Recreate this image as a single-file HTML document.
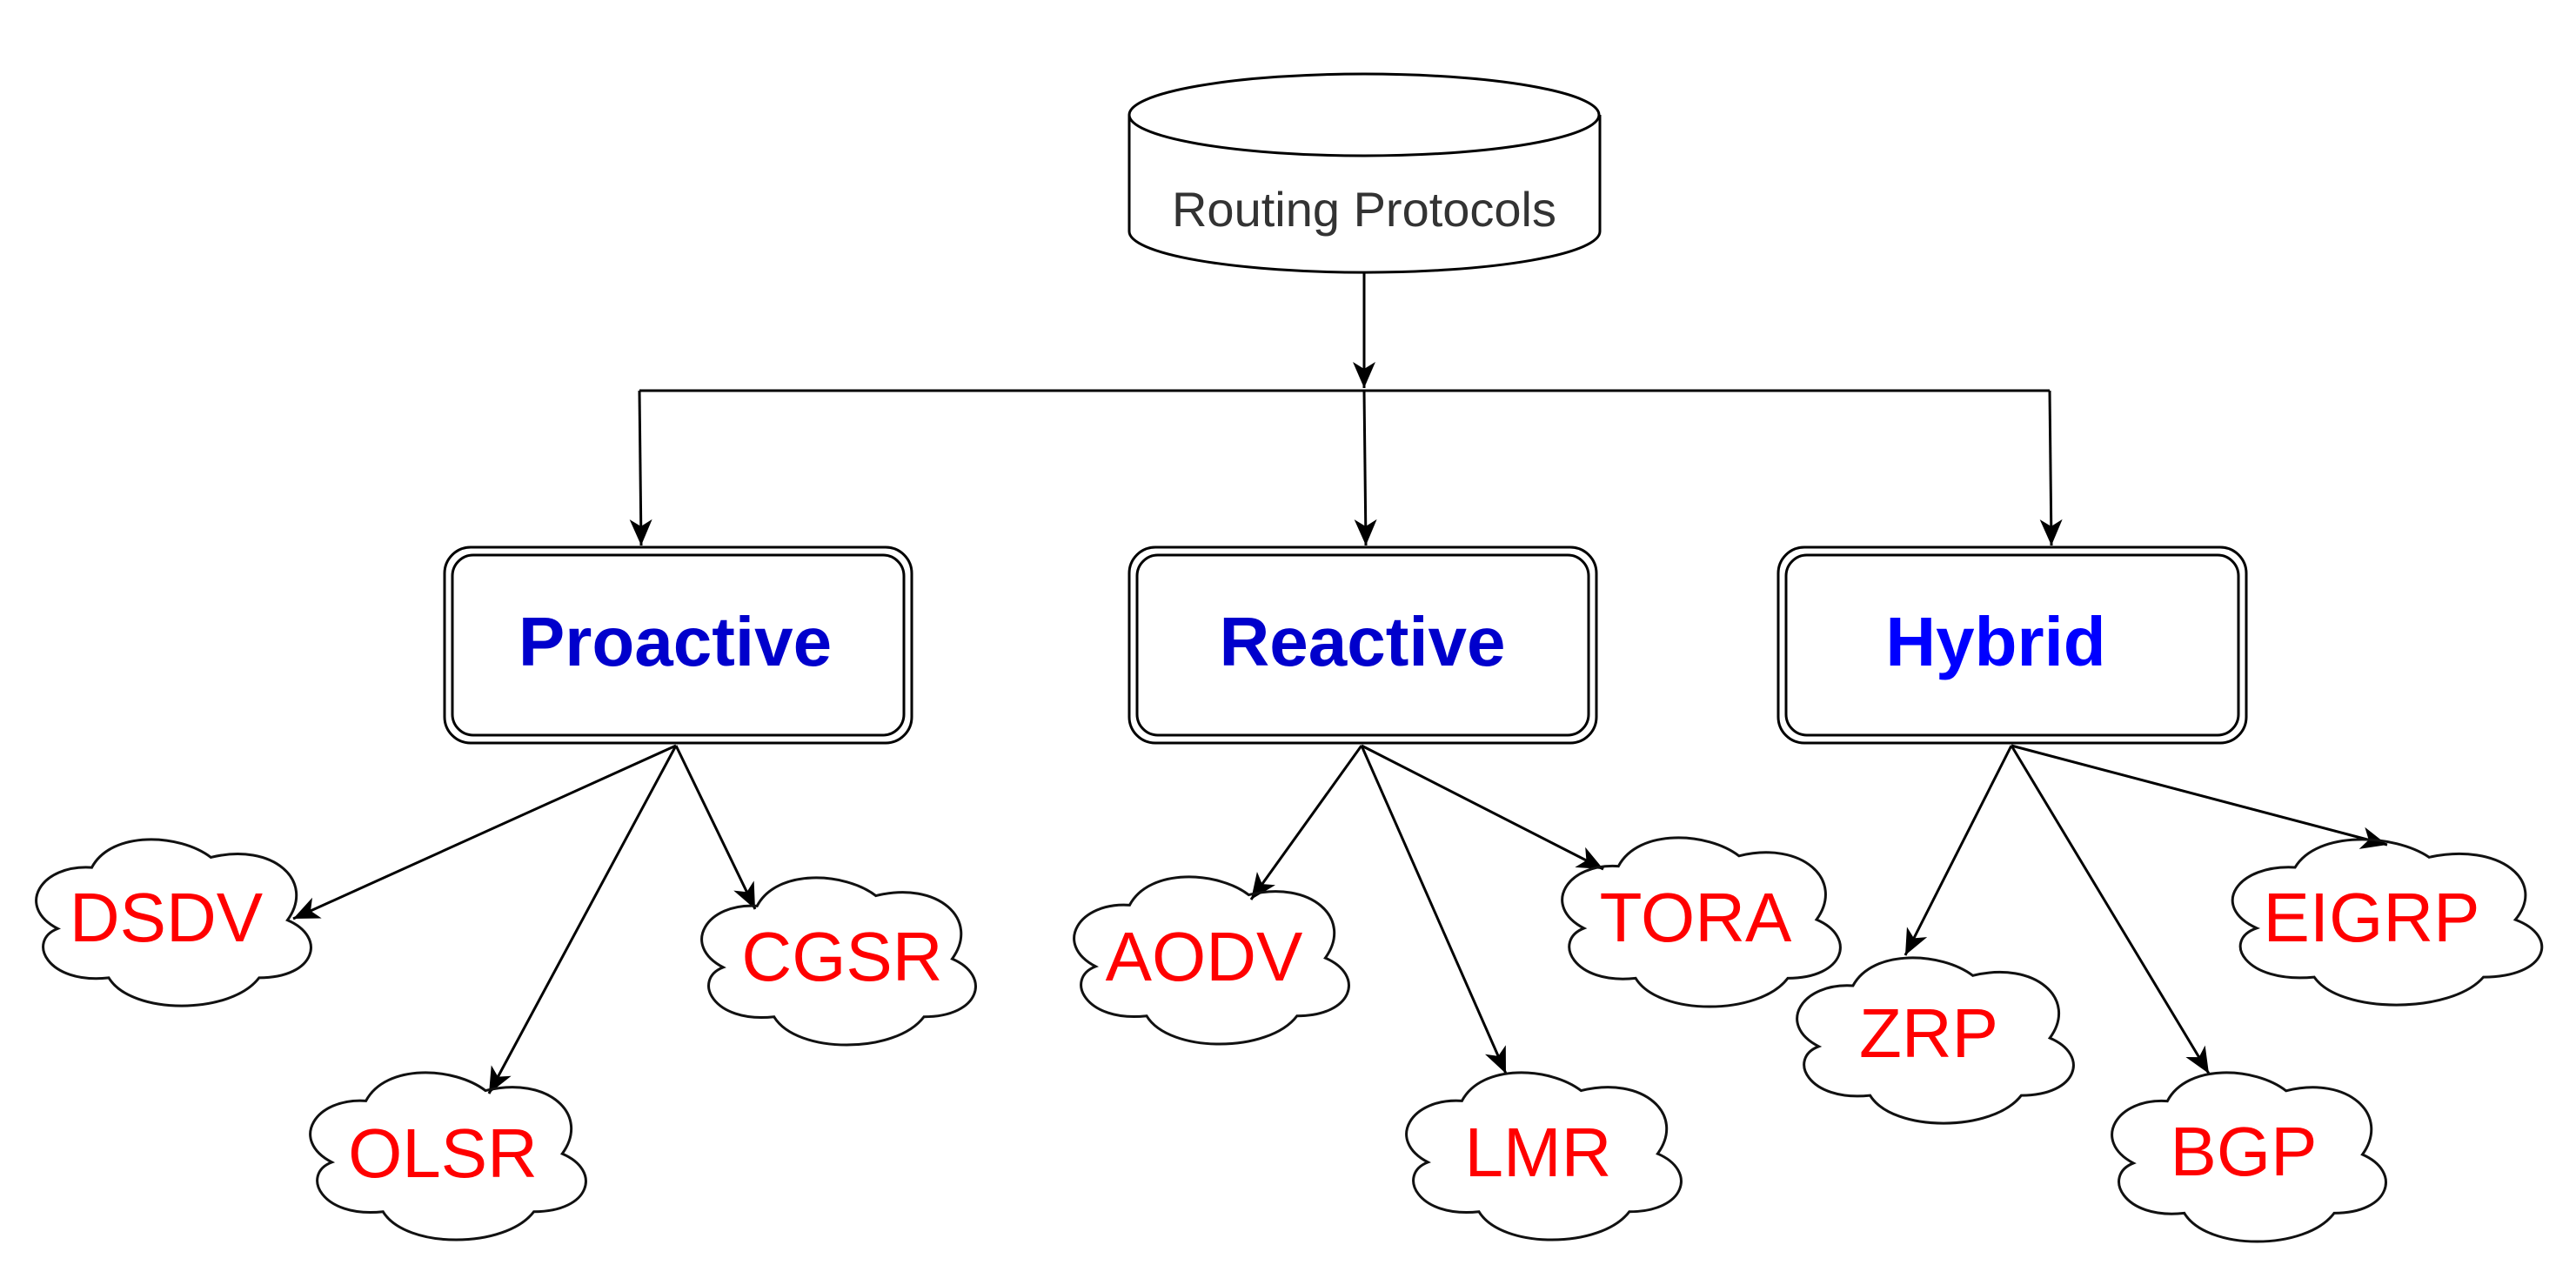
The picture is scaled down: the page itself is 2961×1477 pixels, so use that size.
<!DOCTYPE html>
<html><head><meta charset="utf-8"><style>
html,body{margin:0;padding:0;background:#fff;}
svg{display:block;}
</style></head><body>
<svg width="2961" height="1477" viewBox="0 0 2961 1477" xmlns="http://www.w3.org/2000/svg">
<defs>
<marker id="ar" markerUnits="userSpaceOnUse" markerWidth="40" markerHeight="30" refX="30" refY="13" orient="auto">
<path d="M0,0 L30,13 L0,26 L8,13 Z" fill="#000"/>
</marker>
</defs>
<g fill="none" stroke="#000" stroke-width="3">
<path d="M1298,132 L1298,266 A270,47 0 0 0 1839,266 L1839,132" fill="#fff"/>
<ellipse cx="1568" cy="132" rx="270" ry="47" fill="#fff"/>
<line x1="1568" y1="313" x2="1568" y2="446" marker-end="url(#ar)"/>
<line x1="735" y1="449" x2="2356" y2="449"/>
<line x1="735" y1="449" x2="737" y2="627" marker-end="url(#ar)"/>
<line x1="1568" y1="449" x2="1570" y2="627" marker-end="url(#ar)"/>
<line x1="2356" y1="449" x2="2358" y2="627" marker-end="url(#ar)"/>
<rect x="511" y="629" width="537" height="225" rx="30" fill="#fff"/>
<rect x="520" y="638" width="519" height="207" rx="24"/>
<rect x="1298" y="629" width="537" height="225" rx="30" fill="#fff"/>
<rect x="1307" y="638" width="519" height="207" rx="24"/>
<rect x="2044" y="629" width="538" height="225" rx="30" fill="#fff"/>
<rect x="2053" y="638" width="520" height="207" rx="24"/>
<line x1="777" y1="857" x2="337" y2="1056" marker-end="url(#ar)"/>
<line x1="777" y1="857" x2="868" y2="1045" marker-end="url(#ar)"/>
<line x1="777" y1="857" x2="562" y2="1257" marker-end="url(#ar)"/>
<line x1="1565" y1="857" x2="1438" y2="1034" marker-end="url(#ar)"/>
<line x1="1565" y1="857" x2="1843" y2="999" marker-end="url(#ar)"/>
<line x1="1565" y1="857" x2="1731" y2="1234" marker-end="url(#ar)"/>
<line x1="2312" y1="857" x2="2190" y2="1098" marker-end="url(#ar)"/>
<line x1="2312" y1="857" x2="2539" y2="1234" marker-end="url(#ar)"/>
<line x1="2312" y1="857" x2="2744" y2="971" marker-end="url(#ar)"/>
</g>
<g fill="none" stroke="#111" stroke-width="3">
<path vector-effect="non-scaling-stroke" transform="translate(37,964) scale(326,195)" d="M .21 .17 C .28 -.05 .52 -.03 .63 .11 C .85 .02 1.0 .25 .90 .48 C 1.04 .58 1.0 .82 .80 .82 C .70 1.04 .35 1.04 .27 .82 C .05 .86 -.02 .60 .09 .53 C -.06 .40 .03 .15 .21 .17 Z"/>
<path vector-effect="non-scaling-stroke" transform="translate(802,1008) scale(325,196)" d="M .21 .17 C .28 -.05 .52 -.03 .63 .11 C .85 .02 1.0 .25 .90 .48 C 1.04 .58 1.0 .82 .80 .82 C .70 1.04 .35 1.04 .27 .82 C .05 .86 -.02 .60 .09 .53 C -.06 .40 .03 .15 .21 .17 Z"/>
<path vector-effect="non-scaling-stroke" transform="translate(352,1232) scale(327,196)" d="M .21 .17 C .28 -.05 .52 -.03 .63 .11 C .85 .02 1.0 .25 .90 .48 C 1.04 .58 1.0 .82 .80 .82 C .70 1.04 .35 1.04 .27 .82 C .05 .86 -.02 .60 .09 .53 C -.06 .40 .03 .15 .21 .17 Z"/>
<path vector-effect="non-scaling-stroke" transform="translate(1230,1007) scale(326,196)" d="M .21 .17 C .28 -.05 .52 -.03 .63 .11 C .85 .02 1.0 .25 .90 .48 C 1.04 .58 1.0 .82 .80 .82 C .70 1.04 .35 1.04 .27 .82 C .05 .86 -.02 .60 .09 .53 C -.06 .40 .03 .15 .21 .17 Z"/>
<path vector-effect="non-scaling-stroke" transform="translate(1791,962) scale(330,198)" d="M .21 .17 C .28 -.05 .52 -.03 .63 .11 C .85 .02 1.0 .25 .90 .48 C 1.04 .58 1.0 .82 .80 .82 C .70 1.04 .35 1.04 .27 .82 C .05 .86 -.02 .60 .09 .53 C -.06 .40 .03 .15 .21 .17 Z"/>
<path vector-effect="non-scaling-stroke" transform="translate(1612,1232) scale(326,196)" d="M .21 .17 C .28 -.05 .52 -.03 .63 .11 C .85 .02 1.0 .25 .90 .48 C 1.04 .58 1.0 .82 .80 .82 C .70 1.04 .35 1.04 .27 .82 C .05 .86 -.02 .60 .09 .53 C -.06 .40 .03 .15 .21 .17 Z"/>
<path vector-effect="non-scaling-stroke" transform="translate(2061,1100) scale(328,194)" d="M .21 .17 C .28 -.05 .52 -.03 .63 .11 C .85 .02 1.0 .25 .90 .48 C 1.04 .58 1.0 .82 .80 .82 C .70 1.04 .35 1.04 .27 .82 C .05 .86 -.02 .60 .09 .53 C -.06 .40 .03 .15 .21 .17 Z"/>
<path vector-effect="non-scaling-stroke" transform="translate(2423,1232) scale(325,198)" d="M .21 .17 C .28 -.05 .52 -.03 .63 .11 C .85 .02 1.0 .25 .90 .48 C 1.04 .58 1.0 .82 .80 .82 C .70 1.04 .35 1.04 .27 .82 C .05 .86 -.02 .60 .09 .53 C -.06 .40 .03 .15 .21 .17 Z"/>
<path vector-effect="non-scaling-stroke" transform="translate(2561,964) scale(367,194)" d="M .21 .17 C .28 -.05 .52 -.03 .63 .11 C .85 .02 1.0 .25 .90 .48 C 1.04 .58 1.0 .82 .80 .82 C .70 1.04 .35 1.04 .27 .82 C .05 .86 -.02 .60 .09 .53 C -.06 .40 .03 .15 .21 .17 Z"/>
</g>
<g font-family="Liberation Sans, sans-serif" text-anchor="middle">
<text x="1568" y="260" font-size="56" fill="#333">Routing Protocols</text>
<g font-size="80" font-weight="bold" fill="#0000cc">
<text x="776" y="765">Proactive</text>
<text x="1566" y="765">Reactive</text>
<text x="2294" y="765" fill="#0000ff">Hybrid</text>
</g>
<g font-size="80" fill="#ff0000">
<text x="191" y="1082">DSDV</text>
<text x="968" y="1127">CGSR</text>
<text x="509" y="1353">OLSR</text>
<text x="1384" y="1127">AODV</text>
<text x="1949" y="1082">TORA</text>
<text x="1768" y="1352">LMR</text>
<text x="2217" y="1215">ZRP</text>
<text x="2579" y="1351">BGP</text>
<text x="2726" y="1082">EIGRP</text>
</g>
</g>
</svg>
</body></html>
